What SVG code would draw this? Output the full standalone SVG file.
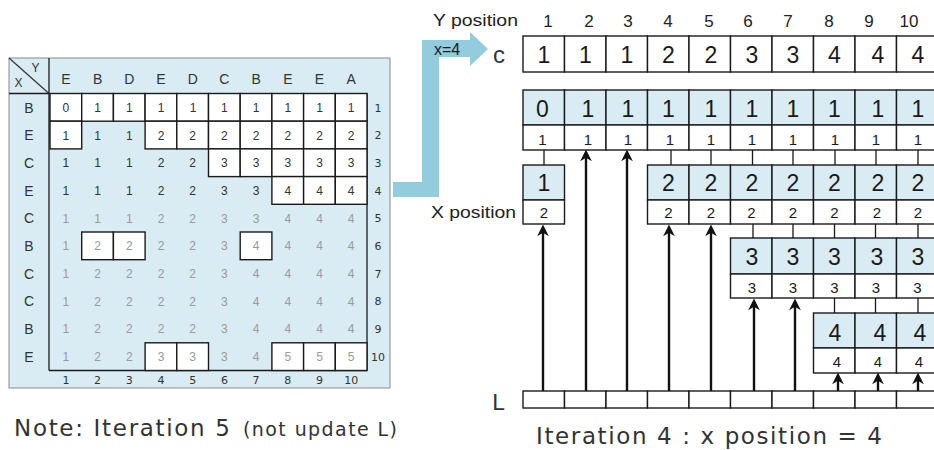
<svg xmlns="http://www.w3.org/2000/svg" width="934" height="450" viewBox="0 0 934 450">
  <style>
    .lbl { font-family: "Liberation Sans", Arial, sans-serif; fill: #333; }
    .v { font-family: "Liberation Sans", Arial, sans-serif; font-size: 12px; fill: #333; text-anchor: middle; }
    .g { font-family: "Liberation Sans", Arial, sans-serif; font-size: 12px; fill: #9a9a9a; text-anchor: middle; }
    .hd { font-family: "Liberation Sans", Arial, sans-serif; font-size: 14px; fill: #333; text-anchor: middle; }
    .idx { font-family: "DejaVu Sans", Verdana, sans-serif; font-size: 11px; fill: #333; text-anchor: middle; }
    .w { fill: #ffffff; stroke: #1a1a1a; stroke-width: 1.4; }
    .b { fill: #d9ecf3; stroke: #1a1a1a; stroke-width: 1.4; }
    .big { font-family: "Liberation Sans", Arial, sans-serif; font-size: 23px; fill: #1a1a1a; text-anchor: middle; }
    .sm { font-family: "Liberation Sans", Arial, sans-serif; font-size: 15px; fill: #1a1a1a; text-anchor: middle; }
    .pos { font-family: "Liberation Sans", Arial, sans-serif; font-size: 17px; fill: #222; text-anchor: middle; }
    .cap { font-family: "DejaVu Sans", Verdana, sans-serif; fill: #333; }
    .tag { font-family: "Liberation Sans", Arial, sans-serif; font-size: 16px; fill: #1a1a1a; }
    .link { stroke: #1a1a1a; stroke-width: 1.3; fill: none; }
    .up { stroke: #111; stroke-width: 2.4; fill: none; marker-end: url(#head); }
  </style>
  <defs>
    <marker id="head" markerUnits="userSpaceOnUse" markerWidth="14" markerHeight="14" refX="0" refY="0" viewBox="-8 -6 12 12" orient="auto">
      <path d="M3,0 L-7,-5 L-4,0 L-7,5 Z" fill="#111"/>
    </marker>
  </defs>

  <!-- LCS length table, iteration 5 -->
  <g id="lcs-table">
    <rect x="9" y="58" width="381" height="330" fill="#d9ecf3" stroke="#8a8a8a" stroke-width="1"/>
    <line x1="9" y1="58" x2="49" y2="93.5" stroke="#333" stroke-width="1.2"/>
    <line x1="9" y1="93.5" x2="49" y2="93.5" stroke="#1a1a1a" stroke-width="1.3"/>
    <line x1="49" y1="58" x2="49" y2="370.5" stroke="#1a1a1a" stroke-width="1.3"/>
    <line x1="49" y1="370.5" x2="367" y2="370.5" stroke="#1a1a1a" stroke-width="1.3"/>
    <line x1="367" y1="93.5" x2="367" y2="370.5" stroke="#1a1a1a" stroke-width="1.3"/>
    <text class="lbl" x="35.5" y="72" font-size="12" text-anchor="middle">Y</text>
    <text class="lbl" x="18.5" y="87" font-size="12" text-anchor="middle">X</text>

    <!-- Y sequence -->
    <g class="hd">
      <text x="65.9" y="84">E</text><text x="97.6" y="84">B</text><text x="129.3" y="84">D</text>
      <text x="161" y="84">E</text><text x="192.7" y="84">D</text><text x="224.4" y="84">C</text>
      <text x="256.1" y="84">B</text><text x="287.8" y="84">E</text><text x="319.5" y="84">E</text>
      <text x="351.2" y="84">A</text>
    </g>
    <!-- X sequence -->
    <g class="hd">
      <text x="29" y="112.5">B</text><text x="29" y="140.2">E</text><text x="29" y="167.9">C</text>
      <text x="29" y="195.6">E</text><text x="29" y="223.3">C</text><text x="29" y="251">B</text>
      <text x="29" y="278.7">C</text><text x="29" y="306.4">C</text><text x="29" y="334.1">B</text>
      <text x="29" y="361.8">E</text>
    </g>

    <!-- highlighted cells -->
    <g>
      <rect class="w" x="50" y="93.5" width="31.7" height="27.7"/>
      <rect class="w" x="81.7" y="93.5" width="31.7" height="27.7"/>
      <rect class="w" x="113.4" y="93.5" width="31.7" height="27.7"/>
      <rect class="w" x="145.1" y="93.5" width="31.7" height="27.7"/>
      <rect class="w" x="176.8" y="93.5" width="31.7" height="27.7"/>
      <rect class="w" x="208.5" y="93.5" width="31.7" height="27.7"/>
      <rect class="w" x="240.2" y="93.5" width="31.7" height="27.7"/>
      <rect class="w" x="271.9" y="93.5" width="31.7" height="27.7"/>
      <rect class="w" x="303.6" y="93.5" width="31.7" height="27.7"/>
      <rect class="w" x="335.3" y="93.5" width="31.7" height="27.7"/>

      <rect class="w" x="50" y="121.2" width="31.7" height="27.7"/>
      <rect class="w" x="145.1" y="121.2" width="31.7" height="27.7"/>
      <rect class="w" x="176.8" y="121.2" width="31.7" height="27.7"/>
      <rect class="w" x="208.5" y="121.2" width="31.7" height="27.7"/>
      <rect class="w" x="240.2" y="121.2" width="31.7" height="27.7"/>
      <rect class="w" x="271.9" y="121.2" width="31.7" height="27.7"/>
      <rect class="w" x="303.6" y="121.2" width="31.7" height="27.7"/>
      <rect class="w" x="335.3" y="121.2" width="31.7" height="27.7"/>

      <rect class="w" x="208.5" y="148.9" width="31.7" height="27.7"/>
      <rect class="w" x="240.2" y="148.9" width="31.7" height="27.7"/>
      <rect class="w" x="271.9" y="148.9" width="31.7" height="27.7"/>
      <rect class="w" x="303.6" y="148.9" width="31.7" height="27.7"/>
      <rect class="w" x="335.3" y="148.9" width="31.7" height="27.7"/>

      <rect class="w" x="271.9" y="176.6" width="31.7" height="27.7"/>
      <rect class="w" x="303.6" y="176.6" width="31.7" height="27.7"/>
      <rect class="w" x="335.3" y="176.6" width="31.7" height="27.7"/>

      <rect class="w" x="81.7" y="232" width="31.7" height="27.7"/>
      <rect class="w" x="113.4" y="232" width="31.7" height="27.7"/>
      <rect class="w" x="240.2" y="232" width="31.7" height="27.7"/>

      <rect class="w" x="145.1" y="342.8" width="31.7" height="27.7"/>
      <rect class="w" x="176.8" y="342.8" width="31.7" height="27.7"/>
      <rect class="w" x="271.9" y="342.8" width="31.7" height="27.7"/>
      <rect class="w" x="303.6" y="342.8" width="31.7" height="27.7"/>
      <rect class="w" x="335.3" y="342.8" width="31.7" height="27.7"/>
    </g>

    <!-- cell values -->
    <g class="v">
      <text x="65.9" y="111.8">0</text><text x="97.6" y="111.8">1</text><text x="129.3" y="111.8">1</text><text x="161" y="111.8">1</text><text x="193" y="111.8">1</text><text x="224.4" y="111.8">1</text><text x="256.1" y="111.8">1</text><text x="287.8" y="111.8">1</text><text x="319.5" y="111.8">1</text><text x="351.2" y="111.8">1</text>
      <text x="65.9" y="139.5">1</text><text x="97.6" y="139.5">1</text><text x="129.3" y="139.5">1</text><text x="161" y="139.5">2</text><text x="192.7" y="139.5">2</text><text x="224.4" y="139.5">2</text><text x="256.1" y="139.5">2</text><text x="287.8" y="139.5">2</text><text x="319.5" y="139.5">2</text><text x="351.2" y="139.5">2</text>
      <text x="65.9" y="167.2">1</text><text x="97.6" y="167.2">1</text><text x="129.3" y="167.2">1</text><text x="161" y="167.2">2</text><text x="192.7" y="167.2">2</text><text x="224.4" y="167.2">3</text><text x="256.1" y="167.2">3</text><text x="287.8" y="167.2">3</text><text x="319.5" y="167.2">3</text><text x="351.2" y="167.2">3</text>
      <text x="65.9" y="194.9">1</text><text x="97.6" y="194.9">1</text><text x="129.3" y="194.9">1</text><text x="161" y="194.9">2</text><text x="192.7" y="194.9">2</text><text x="224.4" y="194.9">3</text><text x="256.1" y="194.9">3</text><text x="287.8" y="194.9">4</text><text x="319.5" y="194.9">4</text><text x="351.2" y="194.9">4</text>
    </g>
    <g class="g">
      <text x="65.9" y="222.6">1</text><text x="97.6" y="222.6">1</text><text x="129.3" y="222.6">1</text><text x="161" y="222.6">2</text><text x="192.7" y="222.6">2</text><text x="224.4" y="222.6">3</text><text x="256.1" y="222.6">3</text><text x="287.8" y="222.6">4</text><text x="319.5" y="222.6">4</text><text x="351.2" y="222.6">4</text>
      <text x="65.9" y="250.3">1</text><text x="97.6" y="250.3">2</text><text x="129.3" y="250.3">2</text><text x="161" y="250.3">2</text><text x="192.7" y="250.3">2</text><text x="224.4" y="250.3">3</text><text x="256.1" y="250.3">4</text><text x="287.8" y="250.3">4</text><text x="319.5" y="250.3">4</text><text x="351.2" y="250.3">4</text>
      <text x="65.9" y="278">1</text><text x="97.6" y="278">2</text><text x="129.3" y="278">2</text><text x="161" y="278">2</text><text x="192.7" y="278">2</text><text x="224.4" y="278">3</text><text x="256.1" y="278">4</text><text x="287.8" y="278">4</text><text x="319.5" y="278">4</text><text x="351.2" y="278">4</text>
      <text x="65.9" y="305.7">1</text><text x="97.6" y="305.7">2</text><text x="129.3" y="305.7">2</text><text x="161" y="305.7">2</text><text x="192.7" y="305.7">2</text><text x="224.4" y="305.7">3</text><text x="256.1" y="305.7">4</text><text x="287.8" y="305.7">4</text><text x="319.5" y="305.7">4</text><text x="351.2" y="305.7">4</text>
      <text x="65.9" y="333.4">1</text><text x="97.6" y="333.4">2</text><text x="129.3" y="333.4">2</text><text x="161" y="333.4">2</text><text x="192.7" y="333.4">2</text><text x="224.4" y="333.4">3</text><text x="256.1" y="333.4">4</text><text x="287.8" y="333.4">4</text><text x="319.5" y="333.4">4</text><text x="351.2" y="333.4">4</text>
      <text x="65.9" y="361.1">1</text><text x="97.6" y="361.1">2</text><text x="129.3" y="361.1">2</text><text x="161" y="361.1">3</text><text x="192.7" y="361.1">3</text><text x="224.4" y="361.1">3</text><text x="256.1" y="361.1">4</text><text x="287.8" y="361.1">5</text><text x="319.5" y="361.1">5</text><text x="351.2" y="361.1">5</text>
    </g>

    <!-- row and column indices -->
    <g class="idx">
      <text x="378" y="111.5">1</text><text x="378" y="139.2">2</text><text x="378" y="166.9">3</text><text x="378" y="194.6">4</text><text x="378" y="222.3">5</text>
      <text x="378" y="250">6</text><text x="378" y="277.7">7</text><text x="378" y="305.4">8</text><text x="378" y="333.1">9</text><text x="378" y="360.8">10</text>
      <text x="65.9" y="384">1</text><text x="97.6" y="384">2</text><text x="129.3" y="384">3</text><text x="161" y="384">4</text><text x="192.7" y="384">5</text>
      <text x="224.4" y="384">6</text><text x="256.1" y="384">7</text><text x="287.8" y="384">8</text><text x="319.5" y="384">9</text><text x="351.2" y="384">10</text>
    </g>
  </g>

  <!-- row x=4 handed over to the list structure -->
  <g id="row-pointer">
    <polygon points="393,182 422,182 422,40 470,40 470,32 488,49 470,66 470,57 439,57 439,197 393,197" fill="#93cddd"/>
    <text class="tag" x="434" y="55">x=4</text>
  </g>

  <!-- Y position header -->
  <g id="y-position" class="pos">
    <text x="475.5" y="26" textLength="85" lengthAdjust="spacingAndGlyphs">Y position</text>
    <text x="548" y="27">1</text><text x="589" y="27">2</text><text x="628" y="27">3</text><text x="668" y="27">4</text><text x="709" y="27">5</text>
    <text x="748" y="27">6</text><text x="788" y="27">7</text><text x="829" y="27">8</text><text x="869" y="27">9</text><text x="909" y="27">10</text>
  </g>

  <!-- c row -->
  <g id="c-row">
    <text class="lbl" x="499" y="63" font-size="24" text-anchor="middle" fill="#1a1a1a">c</text>
    <rect class="w" x="523" y="36" width="41.5" height="36"/><rect class="w" x="564.5" y="36" width="41.5" height="36"/>
    <rect class="w" x="606" y="36" width="41.5" height="36"/><rect class="w" x="647.5" y="36" width="41.5" height="36"/>
    <rect class="w" x="689" y="36" width="41.5" height="36"/><rect class="w" x="730.5" y="36" width="41.5" height="36"/>
    <rect class="w" x="772" y="36" width="41.5" height="36"/><rect class="w" x="813.5" y="36" width="41.5" height="36"/>
    <rect class="w" x="855" y="36" width="41.5" height="36"/><rect class="w" x="896.5" y="36" width="41.5" height="36"/>
    <g class="big" font-size="22">
      <text x="543.8" y="63">1</text><text x="585.3" y="63">1</text><text x="626.8" y="63">1</text><text x="668.3" y="63">2</text><text x="711" y="63">2</text>
      <text x="752" y="63">3</text><text x="793" y="63">3</text><text x="834.3" y="63">4</text><text x="878" y="63">4</text><text x="918" y="63">4</text>
    </g>
  </g>

  <!-- level 1 nodes -->
  <g id="level-1">
    <rect class="b" x="523" y="90" width="41.5" height="35"/><rect class="b" x="564.5" y="90" width="41.5" height="35"/>
    <rect class="b" x="606" y="90" width="41.5" height="35"/><rect class="b" x="647.5" y="90" width="41.5" height="35"/>
    <rect class="b" x="689" y="90" width="41.5" height="35"/><rect class="b" x="730.5" y="90" width="41.5" height="35"/>
    <rect class="b" x="772" y="90" width="41.5" height="35"/><rect class="b" x="813.5" y="90" width="41.5" height="35"/>
    <rect class="b" x="855" y="90" width="41.5" height="35"/><rect class="b" x="896.5" y="90" width="41.5" height="35"/>
    <rect class="w" x="523" y="125" width="41.5" height="25"/><rect class="w" x="564.5" y="125" width="41.5" height="25"/>
    <rect class="w" x="606" y="125" width="41.5" height="25"/><rect class="w" x="647.5" y="125" width="41.5" height="25"/>
    <rect class="w" x="689" y="125" width="41.5" height="25"/><rect class="w" x="730.5" y="125" width="41.5" height="25"/>
    <rect class="w" x="772" y="125" width="41.5" height="25"/><rect class="w" x="813.5" y="125" width="41.5" height="25"/>
    <rect class="w" x="855" y="125" width="41.5" height="25"/><rect class="w" x="896.5" y="125" width="41.5" height="25"/>
    <g class="big">
      <text x="542.5" y="117">0</text><text x="588" y="117">1</text><text x="628" y="117">1</text><text x="668.3" y="117">1</text><text x="711" y="117">1</text>
      <text x="752" y="117">1</text><text x="793" y="117">1</text><text x="834.3" y="117">1</text><text x="878" y="117">1</text><text x="918" y="117">1</text>
    </g>
    <g class="sm">
      <text x="542.5" y="145">1</text><text x="588" y="145">1</text><text x="628" y="145">1</text><text x="670" y="145">1</text><text x="711" y="145">1</text>
      <text x="752" y="145">1</text><text x="793" y="145">1</text><text x="835" y="145">1</text><text x="876" y="145">1</text><text x="918" y="145">1</text>
    </g>
  </g>

  <!-- level 2 nodes -->
  <g id="level-2">
    <rect class="b" x="523" y="165" width="41.5" height="35"/>
    <rect class="w" x="523" y="200" width="41.5" height="24"/>
    <rect class="b" x="647.5" y="165" width="41.5" height="35"/><rect class="b" x="689" y="165" width="41.5" height="35"/>
    <rect class="b" x="730.5" y="165" width="41.5" height="35"/><rect class="b" x="772" y="165" width="41.5" height="35"/>
    <rect class="b" x="813.5" y="165" width="41.5" height="35"/><rect class="b" x="855" y="165" width="41.5" height="35"/>
    <rect class="b" x="896.5" y="165" width="41.5" height="35"/>
    <rect class="w" x="647.5" y="200" width="41.5" height="24"/><rect class="w" x="689" y="200" width="41.5" height="24"/>
    <rect class="w" x="730.5" y="200" width="41.5" height="24"/><rect class="w" x="772" y="200" width="41.5" height="24"/>
    <rect class="w" x="813.5" y="200" width="41.5" height="24"/><rect class="w" x="855" y="200" width="41.5" height="24"/>
    <rect class="w" x="896.5" y="200" width="41.5" height="24"/>
    <g class="big">
      <text x="543.8" y="191">1</text>
      <text x="668.3" y="191">2</text><text x="711" y="191">2</text><text x="752" y="191">2</text><text x="793" y="191">2</text>
      <text x="834.3" y="191">2</text><text x="878" y="191">2</text><text x="918" y="191">2</text>
    </g>
    <g class="sm">
      <text x="543.8" y="218">2</text>
      <text x="668.3" y="218">2</text><text x="711" y="218">2</text><text x="751.3" y="218">2</text><text x="792.8" y="218">2</text>
      <text x="834.3" y="218">2</text><text x="877" y="218">2</text><text x="918" y="218">2</text>
    </g>
    <text class="pos" x="473.5" y="218" textLength="85" lengthAdjust="spacingAndGlyphs">X position</text>
  </g>

  <!-- level 3 nodes -->
  <g id="level-3">
    <rect class="b" x="730.5" y="238" width="41.5" height="36"/><rect class="b" x="772" y="238" width="41.5" height="36"/>
    <rect class="b" x="813.5" y="238" width="41.5" height="36"/><rect class="b" x="855" y="238" width="41.5" height="36"/>
    <rect class="b" x="896.5" y="238" width="41.5" height="36"/>
    <rect class="w" x="730.5" y="274" width="41.5" height="24"/><rect class="w" x="772" y="274" width="41.5" height="24"/>
    <rect class="w" x="813.5" y="274" width="41.5" height="24"/><rect class="w" x="855" y="274" width="41.5" height="24"/>
    <rect class="w" x="896.5" y="274" width="41.5" height="24"/>
    <g class="big">
      <text x="752" y="265">3</text><text x="793" y="265">3</text><text x="834.3" y="265">3</text><text x="877" y="265">3</text><text x="918" y="265">3</text>
    </g>
    <g class="sm">
      <text x="752" y="293">3</text><text x="793" y="293">3</text><text x="834.3" y="293">3</text><text x="876" y="293">3</text><text x="917.3" y="293">3</text>
    </g>
  </g>

  <!-- level 4 nodes -->
  <g id="level-4">
    <rect class="b" x="813.5" y="313" width="41.5" height="35"/><rect class="b" x="855" y="313" width="41.5" height="35"/>
    <rect class="b" x="896.5" y="313" width="41.5" height="35"/>
    <rect class="w" x="813.5" y="348" width="41.5" height="25"/><rect class="w" x="855" y="348" width="41.5" height="25"/>
    <rect class="w" x="896.5" y="348" width="41.5" height="25"/>
    <g class="big">
      <text x="835" y="341">4</text><text x="880" y="341">4</text><text x="920" y="341">4</text>
    </g>
    <g class="sm">
      <text x="837" y="367">4</text><text x="878" y="367">4</text><text x="919" y="367">4</text>
    </g>
  </g>

  <!-- L array -->
  <g id="l-array">
    <text class="cap" x="492" y="410" font-size="22">L</text>
    <rect class="w" x="523" y="391" width="41.5" height="17"/><rect class="w" x="564.5" y="391" width="41.5" height="17"/>
    <rect class="w" x="606" y="391" width="41.5" height="17"/><rect class="w" x="647.5" y="391" width="41.5" height="17"/>
    <rect class="w" x="689" y="391" width="41.5" height="17"/><rect class="w" x="730.5" y="391" width="41.5" height="17"/>
    <rect class="w" x="772" y="391" width="41.5" height="17"/><rect class="w" x="813.5" y="391" width="41.5" height="17"/>
    <rect class="w" x="855" y="391" width="41.5" height="17"/><rect class="w" x="896.5" y="391" width="41.5" height="17"/>
  </g>

  <!-- connectors -->
  <g id="connectors">
    <path class="link" d="M544,150V165 M671,150V165 M711,150V165 M752.5,150V165 M793,150V165 M835,150V165 M876,150V165 M918,150V165"/>
    <path class="link" d="M753,224V238 M793,224V238 M834.5,224V238 M875.5,224V238 M918,224V238"/>
    <path class="link" d="M834.5,298V313 M875.5,298V313 M918,298V313"/>
    <line class="up" x1="543" y1="391" x2="543" y2="228"/>
    <line class="up" x1="586" y1="391" x2="586" y2="153"/>
    <line class="up" x1="627" y1="391" x2="627" y2="153"/>
    <line class="up" x1="669" y1="391" x2="669" y2="228"/>
    <line class="up" x1="711" y1="391" x2="711" y2="228"/>
    <line class="up" x1="754" y1="391" x2="754" y2="302"/>
    <line class="up" x1="795" y1="391" x2="795" y2="302"/>
    <line class="up" x1="838" y1="391" x2="838" y2="376"/>
    <line class="up" x1="878" y1="391" x2="878" y2="376"/>
    <line class="up" x1="918" y1="391" x2="918" y2="376"/>
  </g>

  <!-- captions -->
  <g id="captions">
    <text class="cap" x="14" y="436" font-size="23" textLength="216" lengthAdjust="spacing">Note: Iteration 5</text>
    <text class="cap" x="243" y="436" font-size="19" textLength="154" lengthAdjust="spacing">(not update L)</text>
    <text class="cap" x="536" y="444" font-size="23" textLength="346" lengthAdjust="spacing">Iteration 4 : x position = 4</text>
  </g>
</svg>
